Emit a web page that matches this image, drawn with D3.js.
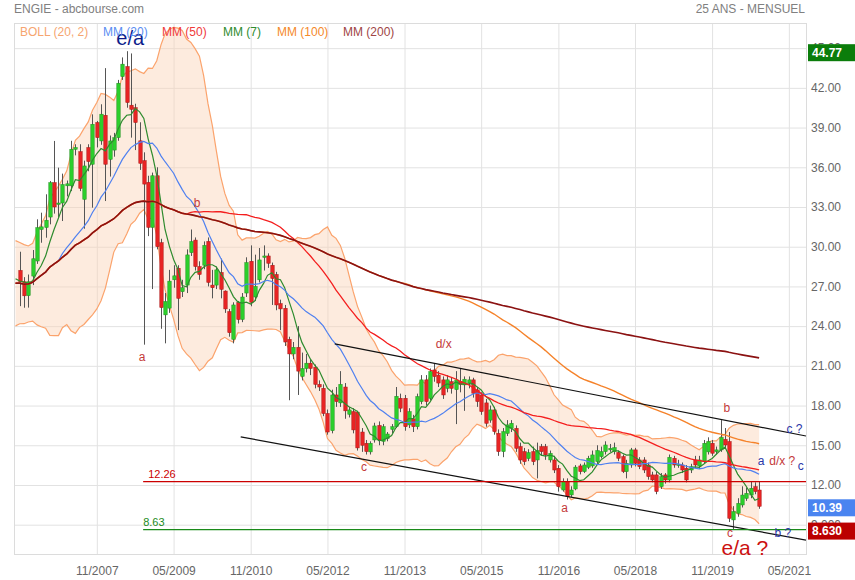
<!DOCTYPE html>
<html><head><meta charset="utf-8">
<script src="https://cdn.jsdelivr.net/npm/d3@7"></script>
<style>body{margin:0;background:#fff}svg{display:block;font-family:"Liberation Sans",Arial,sans-serif}</style>
</head><body><svg id="c" width="855" height="580"></svg>
<script>
// ---------- DATA ----------
const firstMonth = "2006-05-01";
const lastMonth = "2020-10-01";
// closes before the visible window (used only for the indicators)
const preCloses = [23.5,26.0,29.8,28.6,26.8,28.2,27.6,26.9,28.0,27.0];
const open = [28.21,27.35,26.3,27.78,28.92,31.3,31.45,32.24,34.84,33.2,
33.3,34.6,34.6,37.36,37.18,33.58,37.49,36.23,39.38,37.99,
39.93,36.6,37.3,38.24,42.85,43.61,40.69,40.5,38.0,36.5,
34.86,31.46,35.36,30.3,24.85,25.36,27.5,28.37,26.6,27.1,
29.55,30.5,28.5,28.6,30.4,27.1,27.1,28.05,26.65,25.1,
23.0,25.8,24.5,26.5,28.9,26.2,27.5,29.2,29.3,28.6,
27.9,25.7,25.35,23.0,21.9,22.4,20.2,20.8,21.2,20.9,
19.6,19.3,17.4,16.1,18.8,18.2,19.4,17.34,17.54,17.5,
16.0,15.15,14.5,15.4,16.5,15.3,15.5,16.2,16.4,18.55,
18.55,16.54,17.0,16.4,18.3,19.94,18.55,20.69,20.3,19.94,
19.3,19.8,19.2,19.8,19.56,19.7,19.94,19.18,18.8,18.2,
16.9,17.67,15.9,14.52,15.9,16.28,16.28,14.9,14.52,14.0,
14.52,13.89,14.9,14.9,13.89,13.89,13.26,11.62,12.25,11.25,
11.7,13.44,13.01,13.34,13.44,13.76,14.14,14.52,14.65,14.52,
14.45,14.14,13.01,13.51,14.65,13.89,13.89,13.51,12.76,12.76,
11.87,12.76,12.38,14.02,13.5,13.51,13.26,13.13,13.89,13.44,
13.76,14.5,15.15,14.52,14.65,15.45,15.28,9.36,9.86,10.49,
10.99,11.24,11.87,11.62];
const high = [29.62,27.7,27.9,29.75,32.07,32.57,33.96,34.96,37.99,35.97,
35.52,35.0,38.0,37.74,37.74,36.5,37.74,40.0,39.5,40.76,
43.49,38.4,38.6,42.6,44.3,44.77,44.6,40.8,39.4,37.13,
35.36,35.6,36.0,30.6,26.5,28.25,28.6,28.6,27.5,29.8,
31.3,30.7,28.9,30.4,30.7,28.25,28.5,29.1,26.7,25.3,
25.8,25.9,26.5,29.2,30.1,29.4,29.9,30.1,29.5,28.8,
28.1,26.0,25.6,23.2,22.8,24.0,22.0,21.9,21.5,21.1,
19.9,19.6,17.7,19.2,19.4,20.6,19.7,17.9,17.8,17.6,
16.3,15.4,15.3,16.7,16.8,16.6,16.0,16.6,19.4,18.9,
18.8,17.8,17.3,18.9,20.3,20.3,20.8,21.2,20.6,20.2,
20.3,20.1,20.6,20.8,20.2,20.2,20.1,19.4,19.0,18.5,
18.0,17.9,16.2,16.3,16.9,16.9,16.5,15.2,14.8,14.7,
14.9,15.2,15.1,15.1,14.6,14.2,13.5,12.5,12.5,11.9,
13.5,13.6,13.7,14.2,14.6,15.0,14.9,15.3,15.1,15.2,
14.6,14.3,13.9,14.8,14.8,14.1,14.1,13.7,13.0,13.0,
12.9,12.9,14.3,14.2,13.9,13.7,13.5,13.6,14.2,14.2,
15.4,15.6,15.4,14.9,16.9,16.3,16.0,10.4,11.0,11.9,
11.8,12.3,12.2,12.3];
const low = [25.51,25.39,25.4,27.1,28.7,30.3,30.68,31.69,32.5,32.2,
31.94,33.8,34.2,36.9,34.2,31.36,35.7,32.95,37.5,37.7,
33.45,35.3,36.8,38.0,42.6,40.5,38.24,37.3,35.8,22.6,
30.8,26.8,29.8,23.8,22.7,25.0,26.9,23.7,26.2,26.5,
29.3,28.2,27.5,28.3,27.0,26.1,26.8,26.1,25.0,23.2,
22.7,24.2,24.3,26.2,25.5,25.9,27.3,28.2,28.4,25.6,
25.2,23.7,22.5,18.4,21.5,18.8,19.9,20.5,20.3,19.3,
19.1,17.2,15.8,15.9,17.9,17.9,17.0,17.1,15.9,14.6,
14.5,14.3,14.3,15.2,15.0,15.0,15.3,15.9,16.3,17.5,
16.1,16.3,16.0,16.2,18.1,18.0,18.4,19.8,19.4,18.5,
19.0,18.9,16.6,19.0,17.6,19.3,18.6,17.9,17.3,16.4,
16.7,15.8,14.2,14.1,15.7,16.0,14.5,13.6,13.5,13.8,
13.5,12.5,14.2,13.9,13.7,12.9,11.5,11.5,10.9,11.1,
11.6,12.8,12.9,13.2,13.3,13.6,14.0,14.3,14.5,14.3,
13.8,12.9,12.5,13.3,13.4,13.2,12.9,12.4,12.2,11.3,
11.7,12.1,12.2,13.3,13.3,12.9,12.2,12.9,13.3,13.2,
13.6,14.3,14.2,14.3,14.5,14.8,9.2,8.63,9.6,10.3,
10.8,11.0,11.3,10.2];
const close = [27.35,26.29,27.35,29.09,31.44,31.5,32.0,34.84,33.0,33.3,
34.7,34.75,37.36,37.49,34.41,36.1,36.43,39.25,38.24,40.01,
36.23,37.99,38.24,42.35,43.79,40.89,40.38,39.38,36.3,34.73,
31.46,35.36,30.0,25.4,25.86,27.4,27.8,26.1,26.9,29.38,
30.39,28.5,27.9,30.1,27.3,26.9,28.25,26.78,25.3,23.5,
25.6,24.5,26.2,28.8,25.8,27.0,29.0,29.3,28.75,27.6,
25.6,25.3,22.8,21.9,22.4,20.6,20.8,21.2,20.8,19.6,
19.4,17.4,16.0,18.8,18.3,19.6,17.6,17.67,16.16,14.8,
15.0,14.52,15.15,16.46,15.4,16.4,15.85,16.4,18.7,17.8,
16.4,17.54,16.4,18.68,19.94,18.3,20.57,20.19,19.7,18.8,
19.94,19.3,19.94,19.6,19.99,19.94,18.93,18.3,17.54,16.66,
17.67,16.03,14.52,16.03,16.54,16.66,14.77,13.89,13.76,14.44,
13.76,14.6,14.52,14.27,14.39,13.13,11.87,12.25,11.12,11.62,
13.35,13.01,13.51,14.02,14.27,14.6,14.52,15.02,14.77,14.82,
14.02,13.01,13.64,14.65,13.64,13.39,13.13,12.63,12.38,11.5,
12.63,12.38,14.09,13.51,13.55,13.13,12.38,13.39,13.51,13.89,
15.15,15.28,14.4,14.65,15.6,15.02,9.48,9.99,10.61,11.24,
11.37,11.75,11.5,10.39];

const yTicks = [9,12,15,18,21,24,27,30,33,36,39,42,45];
const xTicks = ["2007-11-01","2009-05-01","2010-11-01","2012-05-01","2013-11-01","2015-05-01","2016-11-01","2018-05-01","2019-11-01","2021-05-01"];
const legendLabels = ["BOLL (20, 2)","MM (20)","MM (50)","MM (7)","MM (100)","MM (200)"];
const levelValues = [12.26, 8.63];
const levelLabels = ["12.26","8.63"];
const levelStart = "2008-09-26";
const channelUpper = [["2012-06-22",22.66],["2021-08-31",15.70]];
const channelLower = [["2010-08-22",15.63],["2021-08-31",7.84]];
const annotations = [
 {text:"e/a",  date:"2008-06-26", value:45.79, kind:"bigBlue"},
 {text:"a",    date:"2008-09-19", value:21.67, kind:"red"},
 {text:"b",    date:"2009-10-15", value:33.32, kind:"red"},
 {text:"c",    date:"2013-01-16", value:13.36, kind:"red"},
 {text:"d/x",  date:"2014-08-07", value:22.66, kind:"red"},
 {text:"a",    date:"2016-12-16", value:10.26, kind:"red"},
 {text:"b",    date:"2020-02-15", value:17.82, kind:"red"},
 {text:"c ?",  date:"2021-06-10", value:16.23, kind:"blue"},
 {text:"a",    date:"2020-10-15", value:13.81, kind:"blue"},
 {text:"d/x ?",date:"2020-12-12", value:13.81, kind:"redL"},
 {text:"c",    date:"2021-07-25", value:13.45, kind:"blue"},
 {text:"c",    date:"2020-03-07", value:8.36,  kind:"red"},
 {text:"e/a ?",date:"2020-06-22", value:7.25,  kind:"bigRed"},
 {text:"b ?",  date:"2021-03-19", value:8.37,  kind:"blue"}
];
const priceTags = [["44.77",44.77],["10.39",10.39],["8.630",8.63]];

// ---------- STYLE ----------
const L=14,R=806,T=23,B=555;
const legendColors = ["#f6a56f","#5b8ef2","#f03a3a","#2e8b2e","#f5892a","#a04545"];
const legendX = [20,103,162,223,277,343];
const maStyle = {7:["#2e8b2e",1.2],20:["#4f80f0",1.2],50:["#f41e1e",1.3],100:["#f5822a",1.4],200:["#8b1212",1.6]};
const levelColors = ["#cc0000","#1a8a1a"];
const tagColors = ["#0b7d0b","#4a84f0","#bb0000"];
const annStyle = {bigBlue:["#0d1c8a",20,"middle"],red:["#c43a3a",12,"middle"],blue:["#2a36a8",12,"middle"],
  redL:["#c43a3a",12,"start"],bigRed:["#cc1111",21,"middle"]};

// ---------- CHART ----------
const pd = d3.timeParse("%Y-%m-%d");
const months = d3.timeMonth.range(pd(firstMonth), d3.timeMonth.offset(pd(lastMonth),1));
const allClose = preCloses.concat(close);
const allMonths = d3.timeMonth.range(d3.timeMonth.offset(pd(firstMonth),-preCloses.length), d3.timeMonth.offset(pd(lastMonth),1));
const svg = d3.select("#c");
const x = d3.scaleTime().domain([new Date(2006,2,21), new Date(2021,7,31)]).range([L,R]);
const y = d3.scaleLinear().domain([6.71,46.9]).range([B,T]);

svg.append("defs").append("clipPath").attr("id","clip").append("rect").attr("x",L).attr("y",T).attr("width",R-L).attr("height",B-T);

// axes + grid
const ya = svg.append("g").attr("transform",`translate(${R},0)`)
  .call(d3.axisRight(y).tickValues(yTicks).tickFormat(d3.format(".4r")).tickSize(-(R-L)).tickPadding(5));
const xa = svg.append("g").attr("transform",`translate(0,${B})`)
  .call(d3.axisBottom(x).tickValues(xTicks.map(pd)).tickFormat(d3.timeFormat("%m/%Y")).tickSize(-(B-T)).tickPadding(11));
[ya,xa].forEach(a=>{a.select(".domain").remove();a.selectAll(".tick line").attr("stroke","#e2e2e2");
  a.selectAll("text").attr("fill","#666").attr("font-size",12).attr("font-family","Liberation Sans, Arial, sans-serif");});
svg.append("rect").attr("x",L+0.5).attr("y",T+0.5).attr("width",R-L).attr("height",B-T-1).attr("fill","none").attr("stroke","#dcdcdc");

// indicators
function ma(n,k){const s=allClose.slice(Math.max(0,k-n+1),k+1);return d3.mean(s);}
function sd(n,k){const s=allClose.slice(Math.max(0,k-n+1),k+1);const m=d3.mean(s);return Math.sqrt(d3.mean(s,v=>(v-m)*(v-m)));}
const startK = preCloses.length-1;
const band = d3.range(startK, allClose.length).map(k=>({d:allMonths[k],m:ma(20,k),s:sd(20,k)}));
const plot = svg.append("g").attr("clip-path","url(#clip)");
plot.append("path").datum(band).attr("fill","#fbd2b6").attr("fill-opacity",0.45)
  .attr("d",d3.area().x(d=>x(d.d)).y0(d=>y(d.m-2*d.s)).y1(d=>y(d.m+2*d.s)));
[1,-1].forEach(sg=>plot.append("path").datum(band).attr("fill","none").attr("stroke","#fba36c").attr("stroke-width",1.2)
  .attr("d",d3.line().x(d=>x(d.d)).y(d=>y(d.m+sg*2*d.s))));

// candles
const cd = months.map((d,i)=>({d,o:open[i],h:high[i],l:low[i],c:close[i]}));
const cg = plot.append("g");
cg.selectAll("line").data(cd).join("line").attr("x1",d=>Math.round(x(d.d))+0.5).attr("x2",d=>Math.round(x(d.d))+0.5)
  .attr("y1",d=>y(d.h)).attr("y2",d=>y(d.l)).attr("stroke","#555").attr("stroke-width",1);
cg.selectAll("rect").data(cd).join("rect").attr("x",d=>Math.round(x(d.d))-1.2).attr("width",3.4)
  .attr("y",d=>y(Math.max(d.o,d.c))).attr("height",d=>Math.max(1,Math.abs(y(d.o)-y(d.c))))
  .attr("fill",d=>d.c>=d.o?"#2ccf2c":"#e82424").attr("stroke",d=>d.c>=d.o?"#1f8f1f":"#a81414").attr("stroke-width",0.5);

// moving averages
[7,20,50,100,200].forEach(n=>{
  const pts = d3.range(startK, allClose.length).map(k=>[allMonths[k],ma(n,k)]);
  plot.append("path").datum(pts).attr("fill","none").attr("stroke",maStyle[n][0]).attr("stroke-width",maStyle[n][1])
    .attr("d",d3.line().x(d=>x(d[0])).y(d=>y(d[1])));
});

// channel lines
[channelUpper,channelLower].forEach(c=>plot.append("line").attr("x1",x(pd(c[0][0]))).attr("y1",y(c[0][1]))
  .attr("x2",x(pd(c[1][0]))).attr("y2",y(c[1][1])).attr("stroke","#111").attr("stroke-width",1.2));

// levels
levelValues.forEach((v,i)=>{
  plot.append("line").attr("x1",x(pd(levelStart))).attr("x2",R).attr("y1",y(v)).attr("y2",y(v))
    .attr("stroke",levelColors[i]).attr("stroke-width",1.3);
  svg.append("text").attr("x",x(pd(levelStart))+(i===0?5:0)).attr("y",y(v)-4).attr("fill",levelColors[i])
    .attr("font-size",11).text(levelLabels[i]);
});

// annotations
annotations.forEach(a=>{const st=annStyle[a.kind];
  svg.append("text").attr("x",x(pd(a.date))).attr("y",y(a.value)).attr("dy","0.35em").attr("text-anchor",st[2])
    .attr("fill",st[0]).attr("font-size",st[1]).text(a.text);});

// legend + titles
legendLabels.forEach((t,i)=>svg.append("text").attr("x",legendX[i]).attr("y",36).attr("fill",legendColors[i]).attr("font-size",12).text(t));
svg.append("text").attr("x",14).attr("y",13).attr("fill","#808080").attr("font-size",12).text("ENGIE - abcbourse.com");
svg.append("text").attr("x",805).attr("y",13).attr("text-anchor","end").attr("fill","#808080").attr("font-size",12).text("25 ANS - MENSUEL");

// price tags
priceTags.forEach((p,i)=>{const yy=y(p[1]);
  svg.append("rect").attr("x",808).attr("y",yy-7).attr("width",47).attr("height",17).attr("fill",tagColors[i]);
  svg.append("text").attr("x",812).attr("y",yy+1.5).attr("dy","0.36em").attr("fill","#fff").attr("font-size",12).attr("font-weight","bold").text(p[0]);});
</script></body></html>
